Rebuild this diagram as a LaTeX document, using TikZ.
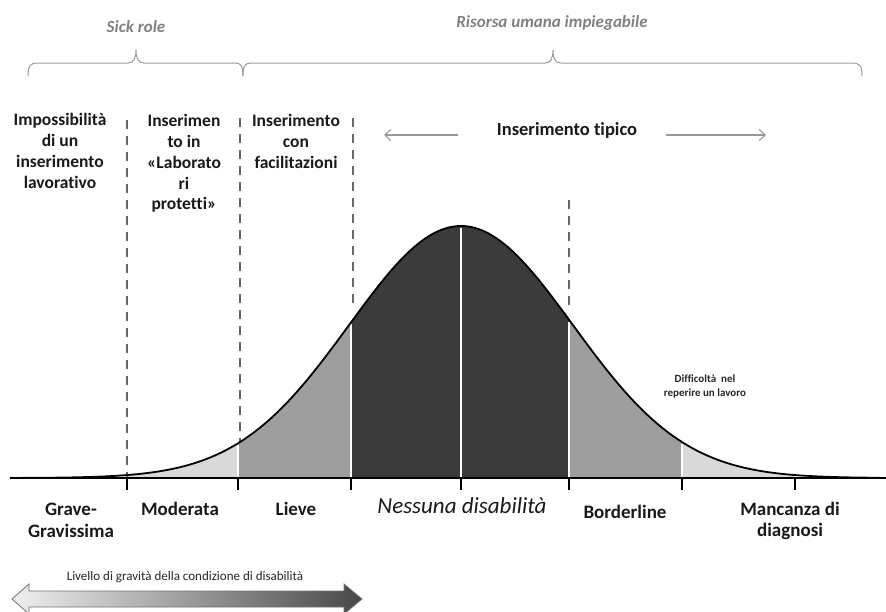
\documentclass[tikz,border=0pt]{standalone}
\usepackage{fontspec}
\setmainfont{Carlito}[Ligatures={NoCommon}]
\usetikzlibrary{arrows.meta}
\tikzset{
  hdr/.style={font=\bfseries\fontsize{17.5}{20.7}\selectfont, align=center, anchor=north, inner sep=0pt, text=black!90},
  lbl/.style={font=\bfseries\fontsize{19}{21.7}\selectfont, align=center, anchor=north, inner sep=0pt, text=black!90},
  toplbl/.style={font=\bfseries\itshape\fontsize{17}{19}\selectfont, text=black!50, inner sep=0pt, anchor=base},
  brc/.style={draw=black!40, line width=1pt},
  dline/.style={draw=black!60, line width=1.8pt, dash pattern=on 9pt off 7pt},
  tickline/.style={draw=black, line width=1.5pt},
  sepline/.style={draw=white, line width=2pt},
  garrow/.style={draw=black!40, line width=1.1pt, -{Straight Barb[length=6pt,width=11pt]}},
  small/.style={font=\bfseries\fontsize{11}{14.5}\selectfont, align=center, anchor=north, inner sep=0pt, text=black!85},
}
\def\bell{478-252*exp(-0.5*((\x-461)/112)^2)}
\begin{document}
\begin{tikzpicture}[x=1pt,y=-1pt]
\useasboundingbox (0,0) rectangle (886,611);
% top labels
\node[toplbl] (sick) at (136,32.7) {Sick role};
\node[toplbl] (risorsa) at (552,27.7) {Risorsa umana impiegabile};
% braces
\draw[brc] (28,76) .. controls (28,66) and (30,63) .. (38,63) -- (128,63)
  .. controls (134,63) and (136,58) .. (136,50) .. controls (136,58) and (138,63) .. (144,63)
  -- (235,63) .. controls (241,63) and (243,66) .. (243,76);
\draw[brc] (243,76) .. controls (243,66) and (245,63) .. (251,63) -- (545,63)
  .. controls (551,63) and (553,58) .. (553,50) .. controls (553,58) and (555,63) .. (561,63)
  -- (852,63) .. controls (860,63) and (862,66) .. (862,76);
% fills
\fill[black!15] plot[domain=127:238,samples=40] (\x,{\bell}) -- (238,478) -- (127,478) -- cycle;
\fill[black!15] plot[domain=682:795,samples=40] (\x,{\bell}) -- (795,478) -- (682,478) -- cycle;
\fill[black!38] plot[domain=238:351,samples=40] (\x,{\bell}) -- (351,478) -- (238,478) -- cycle;
\fill[black!38] plot[domain=569:682,samples=40] (\x,{\bell}) -- (682,478) -- (569,478) -- cycle;
\fill[black!77] plot[domain=351:569,samples=80] (\x,{\bell}) -- (569,478) -- (351,478) -- cycle;
% white separators
\foreach \s in {238,351,461,569,682}{
  \pgfmathsetmacro\yy{478-252*exp(-0.5*((\s-461)/112)^2)}
  \draw[sepline] (\s,477) -- (\s,\yy+2);
}
% dashed lines
\draw[dline] (127,120) -- (127,478);
\draw[dline] (240,118) -- (240,442);
\draw[dline] (353,118) -- (353,305);
\draw[dline] (569,200) -- (569,308);
% curve
\draw[black, line width=1.8pt] plot[domain=10:880,samples=200] (\x,{\bell});
% baseline
\draw[black, line width=2.5pt] (10,478) -- (886,478);
\foreach \t in {127,238,351,461,569,682,795}{
  \draw[tickline] (\t,478) -- (\t,490);
}
% headers
\node[hdr] (h1) at (60,113.5) {Impossibilità\\di un\\inserimento\\lavorativo};
\node[hdr] (h2) at (184,114.5) {Inserimen\\to in\\«Laborato\\ri\\protetti»};
\node[hdr] (h3) at (296,114.5) {Inserimento\\con\\facilitazioni};
\node[hdr, font=\bfseries\fontsize{18.5}{21}\selectfont, anchor=base] (h4) at (567,135) {Inserimento tipico};
\coordinate (la) at (458,135);
\coordinate (lb) at (384,135);
\coordinate (ra) at (666,135);
\coordinate (rb) at (766,135);
\draw[garrow] (la) -- (lb);
\draw[garrow] (ra) -- (rb);
% bottom labels
\node[lbl] (b1) at (71,502.8) {Grave-\\Gravissima};
\node[lbl] (b2) at (180,501.7) {Moderata};
\node[lbl] (b3) at (296,502) {Lieve};
\node[lbl, font=\itshape\fontsize{23}{26}\selectfont] (b4) at (462,497) {Nessuna disabilità};
\node[lbl] (b5) at (625,504.7) {Borderline};
\node[lbl] (b6) at (790,501.7) {Mancanza di\\diagnosi};
% difficulty label
\node[small] (diff) at (705,374.5) {Difficoltà\ \ nel\\reperire un lavoro};
% bottom arrow
\node[inner sep=0pt, anchor=base, font=\fontsize{13}{15}\selectfont, text=black!85] (liv) at (185,580) {Livello di gravità della condizione di disabilità};
\draw[draw=black!55, line width=0.8pt, left color=black!6, right color=black!72]
  (12,599) -- (29,584) -- (29,591) -- (344,591) -- (344,584) -- (362,599)
  -- (344,614) -- (344,607) -- (29,607) -- (29,614) -- cycle;
\end{tikzpicture}
\end{document}
